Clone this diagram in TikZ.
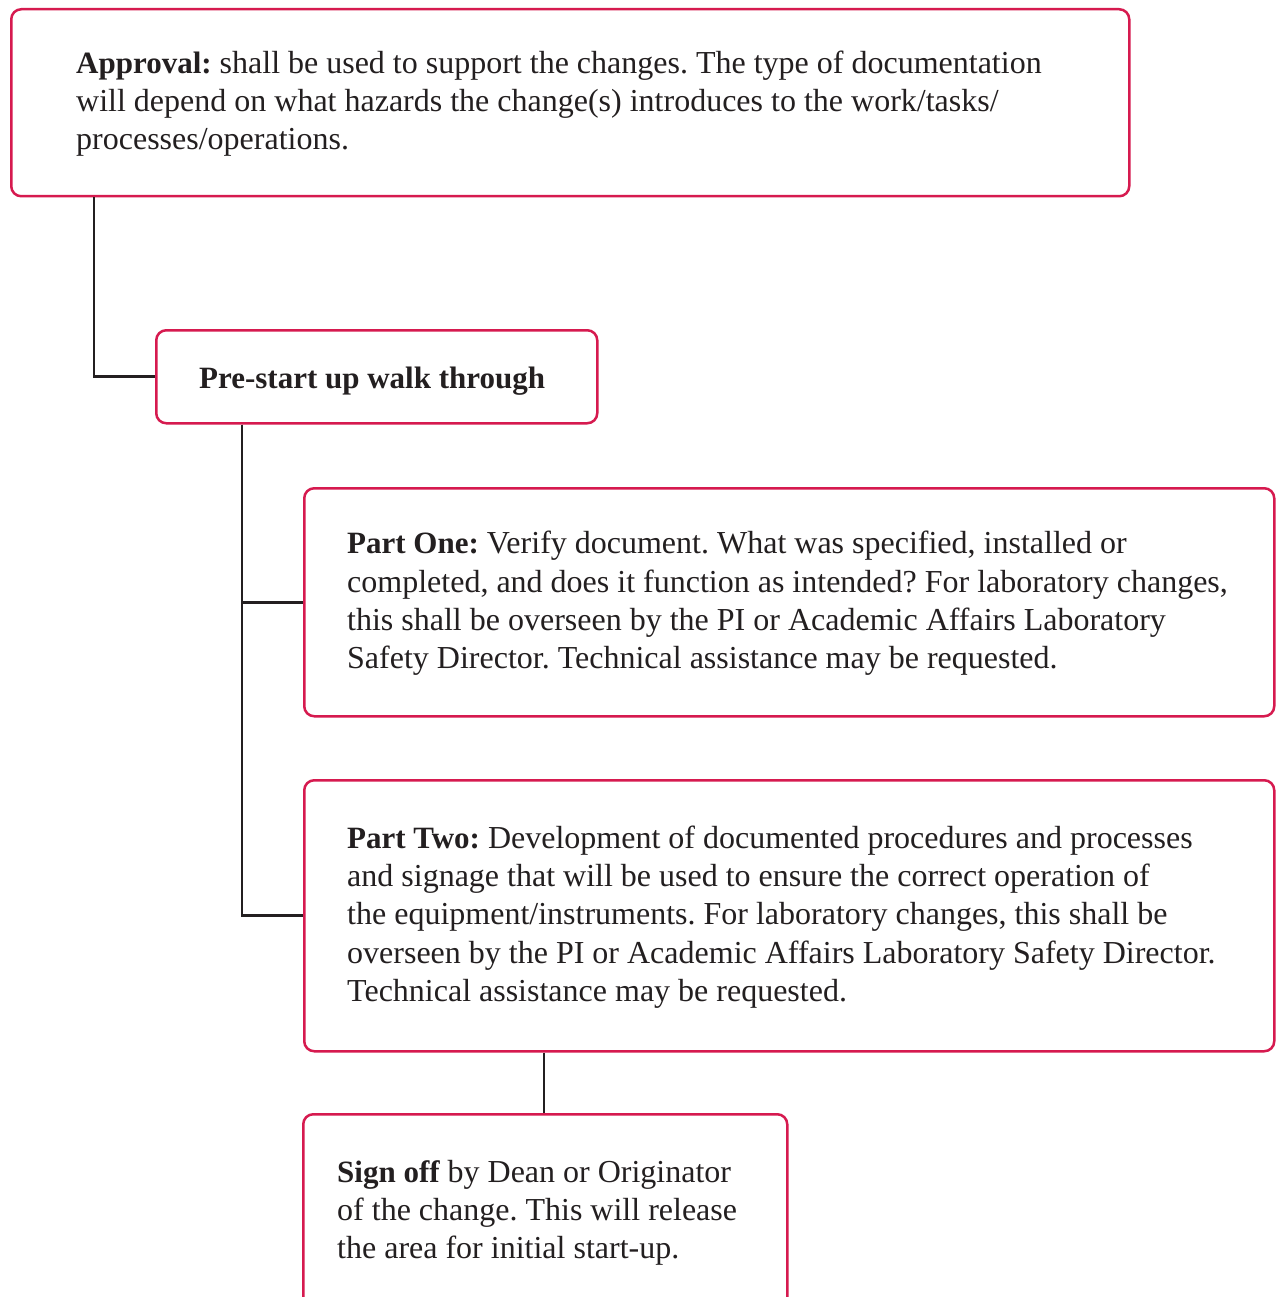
\documentclass[tikz,border=0pt]{standalone}
\usepackage{fontspec}
\setmainfont{Liberation Serif}
\definecolor{boxred}{RGB}{214,26,79}
\definecolor{ink}{RGB}{35,31,32}
\newcommand{\bt}[1]{{\fontsize{31}{38}\selectfont\bfseries #1}}
\tikzset{
  box/.style={draw=boxred, line width=2.5pt, rounded corners=10pt, anchor=north west, inner sep=0pt, fill=white},
  txt/.style={anchor=base west, inner sep=0pt, text=ink, font=\fontsize{32}{38}\selectfont\frenchspacing},
  link/.style={draw=ink, line width=2.8pt},
}
\begin{document}
\begin{tikzpicture}[x=1pt,y=-1pt]
\clip (0,0) rectangle (1281,1297);
\fill[white] (0,0) rectangle (1281,1297);
% boxes
\node[box, minimum width=1118pt, minimum height=187pt] (app) at (10,8) {};
\node[box, minimum width=441pt, minimum height=93pt] (pre) at (155,329) {};
\node[box, minimum width=970pt, minimum height=228pt] (p1) at (303,487) {};
\node[box, minimum width=970pt, minimum height=271pt] (p2) at (303,779) {};
\node[box, minimum width=484pt, minimum height=240pt] (so) at (302,1113) {};
% connectors
\coordinate (ax) at (94,0);
\coordinate (px) at (242,0);
\coordinate (sx) at (544,0);
\draw[link] (app.south -| ax) |- (pre.west);
\draw[link] (pre.south -| px) |- (p1.west);
\draw[link] (pre.south -| px) |- (p2.west);
\draw[link] (p2.south -| sx) -- (so.north -| sx);
% texts
\node[txt] (a1) at (76,74) {\bt{Approval:} shall be used to support the changes. The type of documentation};
\node[txt] (a2) at (76,112) {will depend on what hazards the change(s) introduces to the work/tasks/};
\node[txt] (a3) at (76,150) {processes/operations.};
\node[txt] (pt) at (199,388) {\bt{Pre-start up walk through}};
\node[txt] (o1) at (347,553) {\bt{Part One:} Verify document. What was specified, installed or};
\node[txt] (o2) at (347,592) {completed, and does it function as intended? For laboratory changes,};
\node[txt] (o3) at (347,630) {this shall be overseen by the PI or Academic Affairs Laboratory};
\node[txt] (o4) at (347,668) {Safety Director. Technical assistance may be requested.};
\node[txt] (t1) at (347,848) {\bt{Part Two:} Development of documented procedures and processes};
\node[txt] (t2) at (347,886) {and signage that will be used to ensure the correct operation of};
\node[txt] (t3) at (347,924) {the equipment/instruments. For laboratory changes, this shall be};
\node[txt] (t4) at (347,963) {overseen by the PI or Academic Affairs Laboratory Safety Director.};
\node[txt] (t5) at (347,1001) {Technical assistance may be requested.};
\node[txt] (s1) at (337,1182) {\bt{Sign off} by Dean or Originator};
\node[txt] (s2) at (337,1220) {of the change. This will release};
\node[txt] (s3) at (337,1258) {the area for initial start-up.};
\end{tikzpicture}
\end{document}
